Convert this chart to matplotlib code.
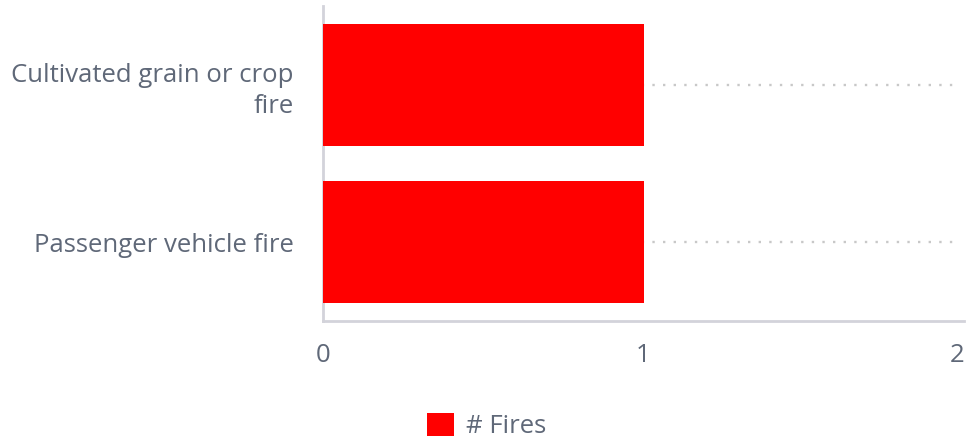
import matplotlib
matplotlib.use("Agg")
import matplotlib.pyplot as plt
from matplotlib.patches import Patch
from matplotlib.transforms import ScaledTranslation

categories = ["Cultivated grain or crop\nfire", "Passenger vehicle fire"]
values = [1, 1]
series_name = "# Fires"
xticks = [0, 1, 2]

plt.rcParams['font.family'] = ['Open Sans', 'DejaVu Sans']
text_color = "#5f6878"
axis_color = "#d3d3da"
fs = 18.5

fig = plt.figure(figsize=(9.66, 4.4), dpi=100)
ax = fig.add_axes([323/966, 1-321/440, (964-323)/966, (321-6)/440])

ypos = list(range(len(categories)))
ax.barh(ypos, values, height=0.775, color="#ff0000", zorder=3)
ax.set_ylim(len(categories)-0.5, -0.5)
ax.set_xlim(xticks[0], xticks[-1])
ax.set_xticks(xticks)
ax.set_xticklabels([str(t) for t in xticks])
ax.set_yticks(ypos)
ax.set_yticklabels(categories, ha="right", multialignment="right", linespacing=1.32)

for y in ypos:
    ax.plot([xticks[0], xticks[-1] * 0.99], [y, y], color="#c8c8c8",
            linestyle=(0, (1, 3.5)), linewidth=1.7, zorder=0)

for s in ["top", "right"]:
    ax.spines[s].set_visible(False)
for s in ["left", "bottom"]:
    ax.spines[s].set_color(axis_color)
    ax.spines[s].set_linewidth(2)
ax.tick_params(axis="both", length=0, colors=text_color, labelsize=fs)
ax.tick_params(axis="x", pad=16)
ax.tick_params(axis="y", pad=21)

last = ax.get_xticklabels()[-1]
last.set_transform(last.get_transform() + ScaledTranslation(-7/100, 0, fig.dpi_scale_trans))

handles = [Patch(facecolor="#ff0000", edgecolor="none")]
fig.legend(handles, [series_name], loc="center", bbox_to_anchor=(487/966, 1-426/440),
           frameon=False, fontsize=fs, labelcolor=text_color,
           handlelength=1.05, handleheight=1.05, handletextpad=0.47,
           borderpad=0, borderaxespad=0)

fig.savefig("out.png", dpi=100)
